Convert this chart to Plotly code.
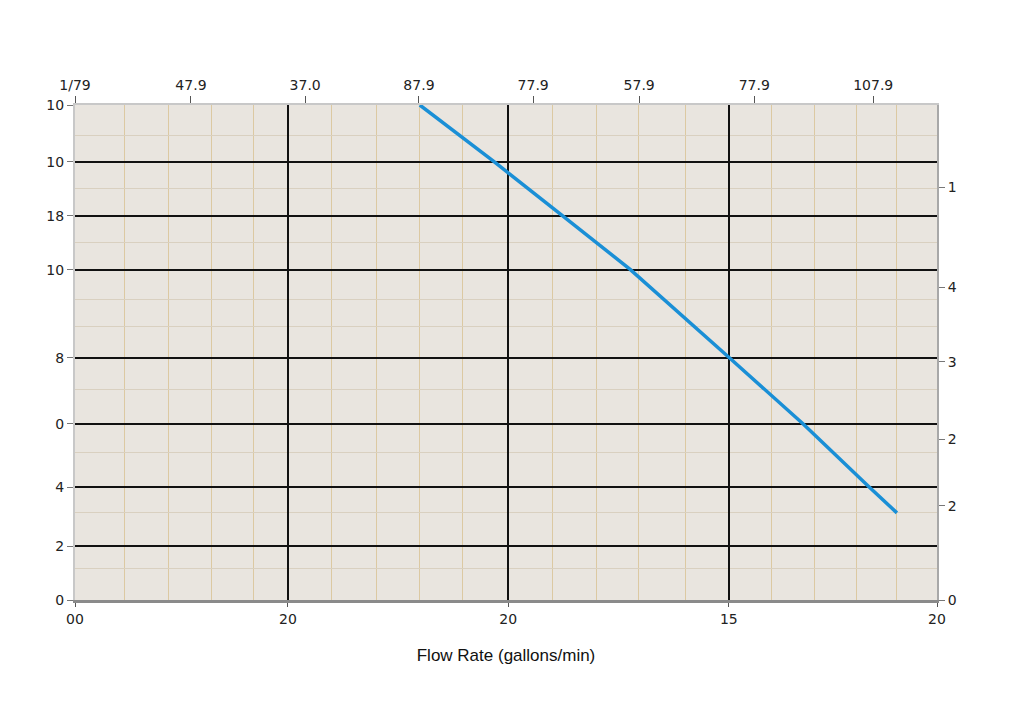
import plotly.graph_objects as go

# ---- data ----
flow = [8.00, 9.70, 11.30, 12.88, 15.15, 16.89, 18.42, 19.07]
head = [10.00, 8.87, 7.77, 6.68, 4.92, 3.56, 2.29, 1.76]

bottom_tickvals = [0, 4.94, 10.05, 15.17, 20]
bottom_ticktext = ["00", "20", "20", "15", "20"]
top_tickvals = [0, 2.69, 5.34, 7.98, 10.63, 13.09, 15.76, 18.52]
top_ticktext = ["1/79", "47.9", "37.0", "87.9", "77.9", "57.9", "77.9", "107.9"]
x_minor = [1.14, 2.16, 3.16, 4.13, 5.96, 7.0, 8.0, 9.0,
           11.07, 12.11, 13.08, 14.17, 16.17, 17.15, 18.14, 19.07]

left_tickvals = [0, 1.09, 2.28, 3.56, 4.89, 6.67, 7.76, 8.85, 10]
left_ticktext = ["0", "2", "4", "0", "8", "10", "18", "10", "10"]
y_minor = [0.63, 1.76, 2.97, 4.26, 5.52, 6.08, 7.23, 8.32, 9.39]
right_tickvals = [0, 1.90, 3.25, 4.81, 6.32, 8.34]
right_ticktext = ["0", "2", "2", "3", "4", "1"]

tickfont = dict(family="DejaVu Sans", size=14, color="#222222")

fig = go.Figure()
fig.add_trace(go.Scatter(x=flow, y=head, mode="lines",
                         line=dict(color="#1a8fd6", width=3.5),
                         showlegend=False, hoverinfo="skip"))
# invisible anchors for secondary axes
fig.add_trace(go.Scatter(x=[0, 20], y=[0, 10], xaxis="x2", yaxis="y",
                         mode="markers", marker=dict(opacity=0),
                         showlegend=False, hoverinfo="skip"))
fig.add_trace(go.Scatter(x=[0, 20], y=[0, 10], xaxis="x", yaxis="y2",
                         mode="markers", marker=dict(opacity=0),
                         showlegend=False, hoverinfo="skip"))

fig.update_layout(
    width=1024, height=720,
    margin=dict(l=67, r=95, t=97, b=128),
    paper_bgcolor="#ffffff",
    plot_bgcolor="#e9e5df",
    xaxis=dict(
        range=[0, 20], tickmode="array", tickvals=bottom_tickvals,
        ticktext=bottom_ticktext, tickfont=tickfont, automargin=False,
        showgrid=True, gridcolor="#111111", gridwidth=2,
        zeroline=False, showline=True, linecolor="#8a8a8a", linewidth=3,
        ticks="outside", ticklen=4, tickcolor="#555555",
        minor=dict(tickmode="array", tickvals=x_minor, showgrid=True,
                   gridcolor="#dcc9a2", gridwidth=1, ticks=""),
        title=dict(text="Flow Rate (gallons/min)",
                   font=dict(family="Liberation Sans Narrow, Liberation Sans", size=17, color="#111111"),
                   standoff=24),
    ),
    xaxis2=dict(
        range=[0, 20], overlaying="x", side="top", tickmode="array",
        tickvals=top_tickvals, ticktext=top_ticktext, tickfont=tickfont,
        automargin=False,
        showgrid=False, zeroline=False, showline=True, linecolor="#c8c8c8",
        linewidth=2, ticks="outside", ticklen=7, tickcolor="#555555",
    ),
    yaxis=dict(
        range=[0, 10], tickmode="array", tickvals=left_tickvals,
        ticktext=left_ticktext, tickfont=tickfont, automargin=False,
        showgrid=True, gridcolor="#111111", gridwidth=2,
        zeroline=False, showline=True, linecolor="#c8c8c8", linewidth=2,
        ticks="outside", ticklen=6, tickcolor="#777777",
        minor=dict(tickmode="array", tickvals=y_minor, showgrid=True,
                   gridcolor="#d9d0c0", gridwidth=1, ticks=""),
    ),
    yaxis2=dict(
        range=[0, 10], overlaying="y", side="right", tickmode="array",
        tickvals=right_tickvals, ticktext=right_ticktext, tickfont=tickfont,
        automargin=False,
        showgrid=False, zeroline=False, showline=True, linecolor="#a8a8a8",
        linewidth=2, ticks="outside", ticklen=6, tickcolor="#777777",
    ),
)

fig.write_html("out.html")
